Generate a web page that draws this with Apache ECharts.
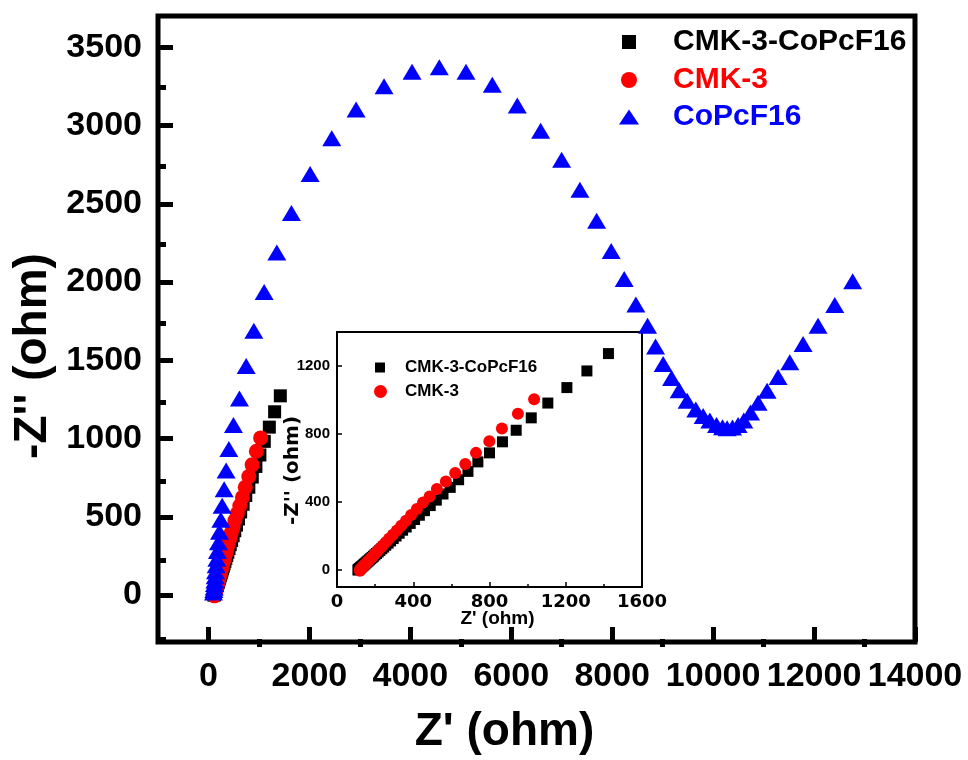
<!DOCTYPE html>
<html>
<head>
<meta charset="utf-8">
<script src="https://cdn.jsdelivr.net/npm/echarts@6/dist/echarts.min.js"></script>
<style>
  html, body { margin: 0; padding: 0; background: #ffffff; }
  #chart { width: 968px; height: 760px; }
</style>
</head>
<body>
<div id="chart"></div>
<script>
// Nyquist data: [Z' (ohm), -Z'' (ohm)]
const seriesNames = ['CMK-3-CoPcF16', 'CMK-3', 'CoPcF16'];
const seriesColors = ['#000000', '#ff0000', '#0000ff'];

const cmk3CoPcF16 = [
  [110,0],[112,2],[115,5],[118,8],[122,12],[126,16],[130,20],[135,25],[140,30],[145,35],
  [151,41],[157,47],[163,53],[170,60],[177,67],[184,74],[191,81],[199,89],[207,97],[216,106],
  [225,115],[235,125],[245,135],[256,146],[268,158],[281,171],[295,185],[310,200],[326,216],[344,234],
  [363,253],[384,274],[407,297],[432,322],[459,349],[489,379],[521,411],[556,447],[594,486],[638,531],
  [687,580],[739,636],[800,689],[868,754],[940,822],[1019,895],[1106,982],[1206,1073],[1311,1171],[1424,1273]
];

const cmk3 = [
  [120,-5],[121,1],[123,4],[125,6],[127,8],[130,12],[133,16],[137,20],[142,26],[147,32],
  [153,40],[160,48],[168,58],[177,68],[187,80],[198,94],[211,109],[225,126],[240,144],[256,163],
  [274,185],[293,208],[314,233],[337,260],[362,290],[389,323],[419,359],[451,397],[486,433],[524,476],
  [571,521],[620,571],[673,624],[729,689],[799,757],[865,832],[949,919],[1034,1004]
];

const coPcF16 = [
  [99,17],[107,32],[113,49],[119,70],[127,93],[133,120],[139,152],[152,190],[166,232],[178,281],
  [198,338],[218,405],[245,481],[271,570],[311,676],[350,796],[404,933],[495,1087],[614,1256],[747,1463],
  [899,1689],[1103,1936],[1354,2189],[1644,2442],[2014,2691],[2443,2919],[2925,3103],[3479,3251],[4034,3344],[4574,3373],
  [5103,3344],[5624,3261],[6119,3128],[6582,2966],[6998,2782],[7360,2590],[7691,2392],[7980,2199],[8238,2020],[8469,1857],
  [8701,1721],[8859,1588],[9010,1477],[9176,1387],[9327,1309],[9485,1241],[9657,1186],[9802,1144],[9935,1115],[10067,1087],
  [10186,1072],[10277,1066],[10384,1070],[10495,1087],[10608,1115],[10741,1166],[10891,1229],[11069,1305],[11287,1393],[11519,1488],
  [11782,1604],[12079,1721],[12410,1853],[12765,2005]
];

// Tick positions
const mainXTicks = [0, 2000, 4000, 6000, 8000, 10000, 12000, 14000];
const mainXMinor = [1000, 3000, 5000, 7000, 9000, 11000, 13000];
const mainYTicks = [0, 500, 1000, 1500, 2000, 2500, 3000, 3500];
const mainYMinor = [-250, 250, 750, 1250, 1750, 2250, 2750, 3250];
const insetYTicks = [0, 400, 800, 1200];
const insetYMinor = [200, 600, 1000];

const FONT = "'Liberation Sans', Arial, Helvetica, sans-serif";
const WIDE = "'DejaVu Sans', Verdana, sans-serif";
const plain = v => String(v);

const chart = echarts.init(document.getElementById('chart'), null, { renderer: 'canvas' });

const titleStyle = (size, family, padding) => ({ fontSize: size, fontWeight: 'bold', color: '#000',
  fontFamily: family || FONT, padding: padding || 0 });

// main frame geometry, shared by the data grid and the minor-tick grid
const mainBox = { left: 158, top: 16, width: 757, height: 631 };

const option = {
  backgroundColor: '#ffffff',
  animation: false,
  grid: [
    Object.assign({ show: true, borderColor: '#000', borderWidth: 5, backgroundColor: 'transparent' }, mainBox),
    { left: 337, top: 332, width: 305, height: 255, show: true,
      borderColor: '#000', borderWidth: 2, backgroundColor: '#ffffff' },
    Object.assign({ show: false }, mainBox)
  ],
  xAxis: [
    { gridIndex: 0, type: 'value', position: 'bottom', min: -1000, max: 14000,
      splitLine: { show: false }, axisLine: { show: false, onZero: false },
      axisTick: { show: true, inside: true, length: 15, customValues: mainXTicks,
                  lineStyle: { color: '#000', width: 5 } },
      axisLabel: { customValues: mainXTicks, formatter: plain, showMinLabel: true, showMaxLabel: true,
                   fontSize: 34, fontWeight: 'bold', color: '#000', fontFamily: FONT, margin: 18 },
      name: "Z' (ohm)", nameLocation: 'middle', nameGap: 67, nameMoveOverlap: false,
      nameTextStyle: titleStyle(46, FONT, [0, 64, 0, 0]) },
    { gridIndex: 1, type: 'value', position: 'bottom', min: 0, max: 1600, interval: 400,
      splitLine: { show: false }, axisLine: { show: false, onZero: false },
      axisTick: { show: true, inside: true, length: 5, lineStyle: { color: '#000', width: 1.5 } },
      minorTick: { show: true, splitNumber: 2, length: 3, lineStyle: { color: '#000', width: 1.5 } },
      axisLabel: { formatter: plain, showMinLabel: true, showMaxLabel: true,
                   fontSize: 18, fontWeight: 'bold', color: '#000', fontFamily: WIDE, margin: 6 },
      name: "Z' (ohm)", nameLocation: 'middle', nameGap: 22, nameMoveOverlap: false,
      nameTextStyle: titleStyle(19, FONT, [0, 0, 0, 16]) },
    { gridIndex: 2, type: 'value', position: 'bottom', min: -1000, max: 14000,
      splitLine: { show: false }, axisLine: { show: false, onZero: false }, axisLabel: { show: false },
      axisTick: { show: true, inside: true, length: 8, customValues: mainXMinor,
                  lineStyle: { color: '#000', width: 5 } } }
  ],
  yAxis: [
    { gridIndex: 0, type: 'value', position: 'left', min: -300, max: 3700,
      splitLine: { show: false }, axisLine: { show: false, onZero: false },
      axisTick: { show: true, inside: true, length: 15, customValues: mainYTicks,
                  lineStyle: { color: '#000', width: 5 } },
      axisLabel: { customValues: mainYTicks, formatter: plain, showMinLabel: true, showMaxLabel: true,
                   fontSize: 34, fontWeight: 'bold', color: '#000', fontFamily: FONT, margin: 16 },
      name: "-Z'' (ohm)", nameLocation: 'middle', nameGap: 102, nameRotate: 90, nameMoveOverlap: false,
      nameTextStyle: titleStyle(46, FONT, [0, 54, 0, 0]) },
    { gridIndex: 1, type: 'value', position: 'left', min: -100, max: 1400,
      splitLine: { show: false }, axisLine: { show: false, onZero: false },
      axisTick: { show: true, inside: true, length: 5, customValues: insetYTicks,
                  lineStyle: { color: '#000', width: 1.5 } },
      axisLabel: { customValues: insetYTicks, formatter: plain, fontSize: 15, fontWeight: 'bold',
                   color: '#000', fontFamily: FONT, margin: 7 },
      name: "-Z'' (ohm)", nameLocation: 'middle', nameGap: 34, nameRotate: 90, nameMoveOverlap: false,
      nameTextStyle: titleStyle(20, WIDE, [0, 22, 0, 0]) },
    { gridIndex: 2, type: 'value', position: 'left', min: -300, max: 3700,
      splitLine: { show: false }, axisLine: { show: false, onZero: false }, axisLabel: { show: false },
      axisTick: { show: true, inside: true, length: 8, customValues: mainYMinor,
                  lineStyle: { color: '#000', width: 5 } } },
    { gridIndex: 2, type: 'value', position: 'right', min: -100, max: 1400, show: false }
  ],
  legend: [
    { selectedMode: false, left: 622, top: 27, padding: 0, itemWidth: 14, itemHeight: 14,
      data: [{ name: seriesNames[0], icon: 'rect', textStyle: { color: seriesColors[0] } }],
      textStyle: { fontSize: 30, fontWeight: 'bold', fontFamily: FONT, lineHeight: 30, padding: [0, 0, 0, 32] } },
    { selectedMode: false, left: 621, top: 65, padding: 0, itemWidth: 16, itemHeight: 16,
      data: [{ name: seriesNames[1], icon: 'circle', textStyle: { color: seriesColors[1] } }],
      textStyle: { fontSize: 30, fontWeight: 'bold', fontFamily: FONT, lineHeight: 30, padding: [0, 0, 0, 31] } },
    { selectedMode: false, left: 619, top: 102, padding: 0, itemWidth: 20, itemHeight: 15,
      data: [{ name: seriesNames[2], icon: 'triangle', textStyle: { color: seriesColors[2] } }],
      textStyle: { fontSize: 30, fontWeight: 'bold', fontFamily: FONT, lineHeight: 30, padding: [0, 0, 0, 29] } },
    { selectedMode: false, left: 375, top: 359, padding: 0, itemWidth: 10, itemHeight: 10,
      data: [{ name: seriesNames[0], icon: 'rect' }],
      textStyle: { fontSize: 17, fontWeight: 'bold', fontFamily: FONT, color: '#000', lineHeight: 17, padding: [0, 0, 0, 15] } },
    { selectedMode: false, left: 374, top: 383, padding: 0, itemWidth: 13, itemHeight: 13,
      data: [{ name: seriesNames[1], icon: 'circle' }],
      textStyle: { fontSize: 17, fontWeight: 'bold', fontFamily: FONT, color: '#000', lineHeight: 17, padding: [0, 0, 0, 13] } }
  ],
  series: [
    { name: seriesNames[0], type: 'scatter', xAxisIndex: 0, yAxisIndex: 0, data: cmk3CoPcF16,
      symbol: 'rect', symbolSize: 13, itemStyle: { color: seriesColors[0], opacity: 1 }, z: 2 },
    { name: seriesNames[1], type: 'scatter', xAxisIndex: 0, yAxisIndex: 0, data: cmk3,
      symbol: 'circle', symbolSize: 15, itemStyle: { color: seriesColors[1], opacity: 1 }, z: 3 },
    { name: seriesNames[2], type: 'scatter', xAxisIndex: 0, yAxisIndex: 0, data: coPcF16,
      symbol: 'triangle', symbolSize: [19, 16], itemStyle: { color: seriesColors[2], opacity: 1 }, z: 4 },
    { name: seriesNames[0], type: 'scatter', xAxisIndex: 1, yAxisIndex: 1, data: cmk3CoPcF16,
      symbol: 'rect', symbolSize: 11, itemStyle: { color: seriesColors[0], opacity: 1 }, z: 5 },
    { name: seriesNames[1], type: 'scatter', xAxisIndex: 1, yAxisIndex: 1, data: cmk3,
      symbol: 'circle', symbolSize: 12, itemStyle: { color: seriesColors[1], opacity: 1 }, z: 6 }
  ]
};

chart.setOption(option);
</script>
</body>
</html>
